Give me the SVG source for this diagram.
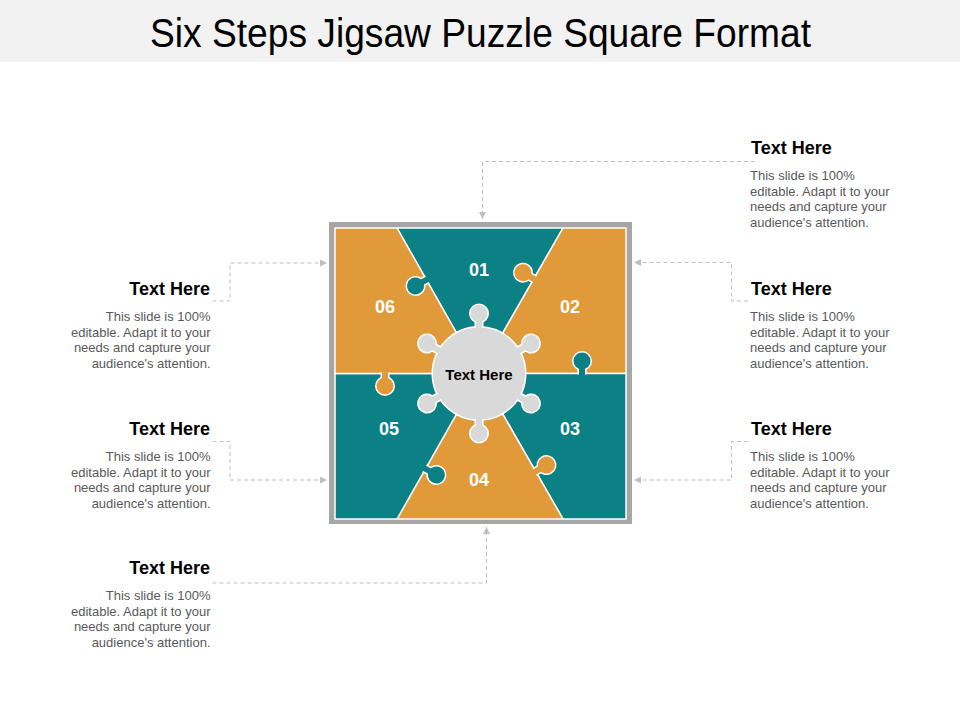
<svg xmlns="http://www.w3.org/2000/svg" xmlns:xlink="http://www.w3.org/1999/xlink" width="960" height="720" viewBox="0 0 960 720">
<style>
.title{font-family:"Liberation Sans",Arial,sans-serif;font-size:40px;fill:#000}
.head{font-family:"Liberation Sans",Arial,sans-serif;font-size:18px;font-weight:bold;fill:#000}
.body{font-family:"Liberation Sans",Arial,sans-serif;font-size:13px;fill:#595959}
.num{font-family:"Liberation Sans",Arial,sans-serif;font-size:18px;font-weight:bold;fill:#fff;text-anchor:middle}
.hubtxt{font-family:"Liberation Sans",Arial,sans-serif;font-size:15px;font-weight:bold;fill:#000;text-anchor:middle}
.orange{fill:#E09A3A;stroke:#fff;stroke-width:1.5;stroke-linejoin:round}
.teal{fill:#0B8185;stroke:#fff;stroke-width:1.5;stroke-linejoin:round}
.conn{fill:none;stroke:#BFBFBF;stroke-width:1;stroke-dasharray:4 3;marker-end:url(#arr)}
.r{text-anchor:end}
</style>
<defs>
<marker id="arr" markerUnits="userSpaceOnUse" markerWidth="8" markerHeight="8" refX="7" refY="3.5" orient="auto">
<path d="M0,0 L7,3.5 L0,7 Z" fill="#BFBFBF"/>
</marker>
<g id="tabS"><rect x="-3" y="-6" width="6" height="5.5"/><circle cx="0" cy="-12.5" r="8.5"/></g>
<g id="tabF"><rect x="-3" y="-6" width="6" height="8"/><circle cx="0" cy="-12.5" r="8.5"/></g>
<g id="knob"><rect x="40" y="-3" width="14" height="6"/><circle cx="60" cy="0" r="8.5"/></g>
<g id="hubShape">
<circle cx="0" cy="0" r="46"/>
<use xlink:href="#knob" transform="rotate(-90)"/>
<use xlink:href="#knob" transform="rotate(-30)"/>
<use xlink:href="#knob" transform="rotate(30)"/>
<use xlink:href="#knob" transform="rotate(90)"/>
<use xlink:href="#knob" transform="rotate(150)"/>
<use xlink:href="#knob" transform="rotate(210)"/>
</g>
</defs>

<rect x="0" y="0" width="960" height="720" fill="#fff"/>
<rect x="0" y="0" width="960" height="62" fill="#F2F2F2"/>
<text class="title" x="150" y="47" textLength="661" lengthAdjust="spacingAndGlyphs">Six Steps Jigsaw Puzzle Square Format</text>

<g id="connectors">
<path class="conn" d="M755,161.5 H482.5 V219"/>
<path class="conn" d="M748,301 H731.5 V262.5 H634"/>
<path class="conn" d="M748,441.5 H731.5 V480 H634"/>
<path class="conn" d="M212.5,301 H230 V263 H327"/>
<path class="conn" d="M212.5,441.5 H230 V480 H327"/>
<path class="conn" d="M212.5,583 H486.5 V527"/>
</g>

<g id="frame"><rect x="332" y="225" width="297" height="296" fill="#fff" stroke="#A6A6A6" stroke-width="6"/></g>

<g id="piece-01"><path class="teal" d="M397,228 L563,228 L479.5,373.5 Z"/><text class="num" x="479" y="275.5">01</text></g>
<g id="piece-02"><path class="orange" d="M563,228 L626,228 L626,373.5 L479.5,373.5 Z"/><text class="num" x="570" y="313">02</text></g>
<g id="piece-03"><path class="teal" d="M479.5,373.5 L626,373.5 L626,519 L563,519 Z"/><text class="num" x="570" y="435">03</text></g>
<g id="piece-04"><path class="orange" d="M479.5,373.5 L563,519 L397,519 Z"/><text class="num" x="479" y="486">04</text></g>
<g id="piece-05"><path class="teal" d="M479.5,373.5 L397,519 L335,519 L335,373.5 Z"/><text class="num" x="389" y="435">05</text></g>
<g id="piece-06"><path class="orange" d="M479.5,373.5 L335,373.5 L335,228 L397,228 Z"/><text class="num" x="385" y="313">06</text></g>

<g id="tabs">
<g transform="translate(426.4,279.8) rotate(-119.6)"><use xlink:href="#tabS" fill="#fff" stroke="#fff" stroke-width="3"/><use xlink:href="#tabF" fill="#0B8185"/></g>
<g transform="translate(533.8,278.9) rotate(-60.15)"><use xlink:href="#tabS" fill="#fff" stroke="#fff" stroke-width="3"/><use xlink:href="#tabF" fill="#E09A3A"/></g>
<g transform="translate(582,373.5)"><use xlink:href="#tabS" fill="#fff" stroke="#fff" stroke-width="3"/><use xlink:href="#tabF" fill="#0B8185"/></g>
<g transform="translate(535.6,471.3) rotate(60.15)"><use xlink:href="#tabS" fill="#fff" stroke="#fff" stroke-width="3"/><use xlink:href="#tabF" fill="#E09A3A"/></g>
<g transform="translate(425.5,468.8) rotate(119.6)"><use xlink:href="#tabS" fill="#fff" stroke="#fff" stroke-width="3"/><use xlink:href="#tabF" fill="#0B8185"/></g>
<g transform="translate(385,373.5) rotate(180)"><use xlink:href="#tabS" fill="#fff" stroke="#fff" stroke-width="3"/><use xlink:href="#tabF" fill="#E09A3A"/></g>
</g>

<g id="hub">
<use xlink:href="#hubShape" transform="translate(479,373.5)" fill="#fff" stroke="#fff" stroke-width="3"/>
<use xlink:href="#hubShape" transform="translate(479,373.5)" fill="#D9D9D9"/>
<text class="hubtxt" x="479" y="379.5">Text Here</text>
</g>

<g id="note-top-right">
<text class="head" x="751" y="153.5">Text Here</text>
<text class="body" x="750" y="180">This slide is 100%</text>
<text class="body" x="750" y="195.5">editable. Adapt it to your</text>
<text class="body" x="750" y="211">needs and capture your</text>
<text class="body" x="750" y="226.5">audience's attention.</text>
</g>
<g id="note-right-upper">
<text class="head" x="751" y="294.5">Text Here</text>
<text class="body" x="750" y="321">This slide is 100%</text>
<text class="body" x="750" y="336.5">editable. Adapt it to your</text>
<text class="body" x="750" y="352">needs and capture your</text>
<text class="body" x="750" y="367.5">audience's attention.</text>
</g>
<g id="note-right-lower">
<text class="head" x="751" y="434.5">Text Here</text>
<text class="body" x="750" y="461">This slide is 100%</text>
<text class="body" x="750" y="476.5">editable. Adapt it to your</text>
<text class="body" x="750" y="492">needs and capture your</text>
<text class="body" x="750" y="507.5">audience's attention.</text>
</g>
<g id="note-left-upper">
<text class="head r" x="210" y="294.5">Text Here</text>
<text class="body r" x="210.5" y="321">This slide is 100%</text>
<text class="body r" x="210.5" y="336.5">editable. Adapt it to your</text>
<text class="body r" x="210.5" y="352">needs and capture your</text>
<text class="body r" x="210.5" y="367.5">audience's attention.</text>
</g>
<g id="note-left-lower">
<text class="head r" x="210" y="434.5">Text Here</text>
<text class="body r" x="210.5" y="461">This slide is 100%</text>
<text class="body r" x="210.5" y="476.5">editable. Adapt it to your</text>
<text class="body r" x="210.5" y="492">needs and capture your</text>
<text class="body r" x="210.5" y="507.5">audience's attention.</text>
</g>
<g id="note-left-bottom">
<text class="head r" x="210" y="573.5">Text Here</text>
<text class="body r" x="210.5" y="600">This slide is 100%</text>
<text class="body r" x="210.5" y="615.5">editable. Adapt it to your</text>
<text class="body r" x="210.5" y="631">needs and capture your</text>
<text class="body r" x="210.5" y="646.5">audience's attention.</text>
</g>
</svg>
